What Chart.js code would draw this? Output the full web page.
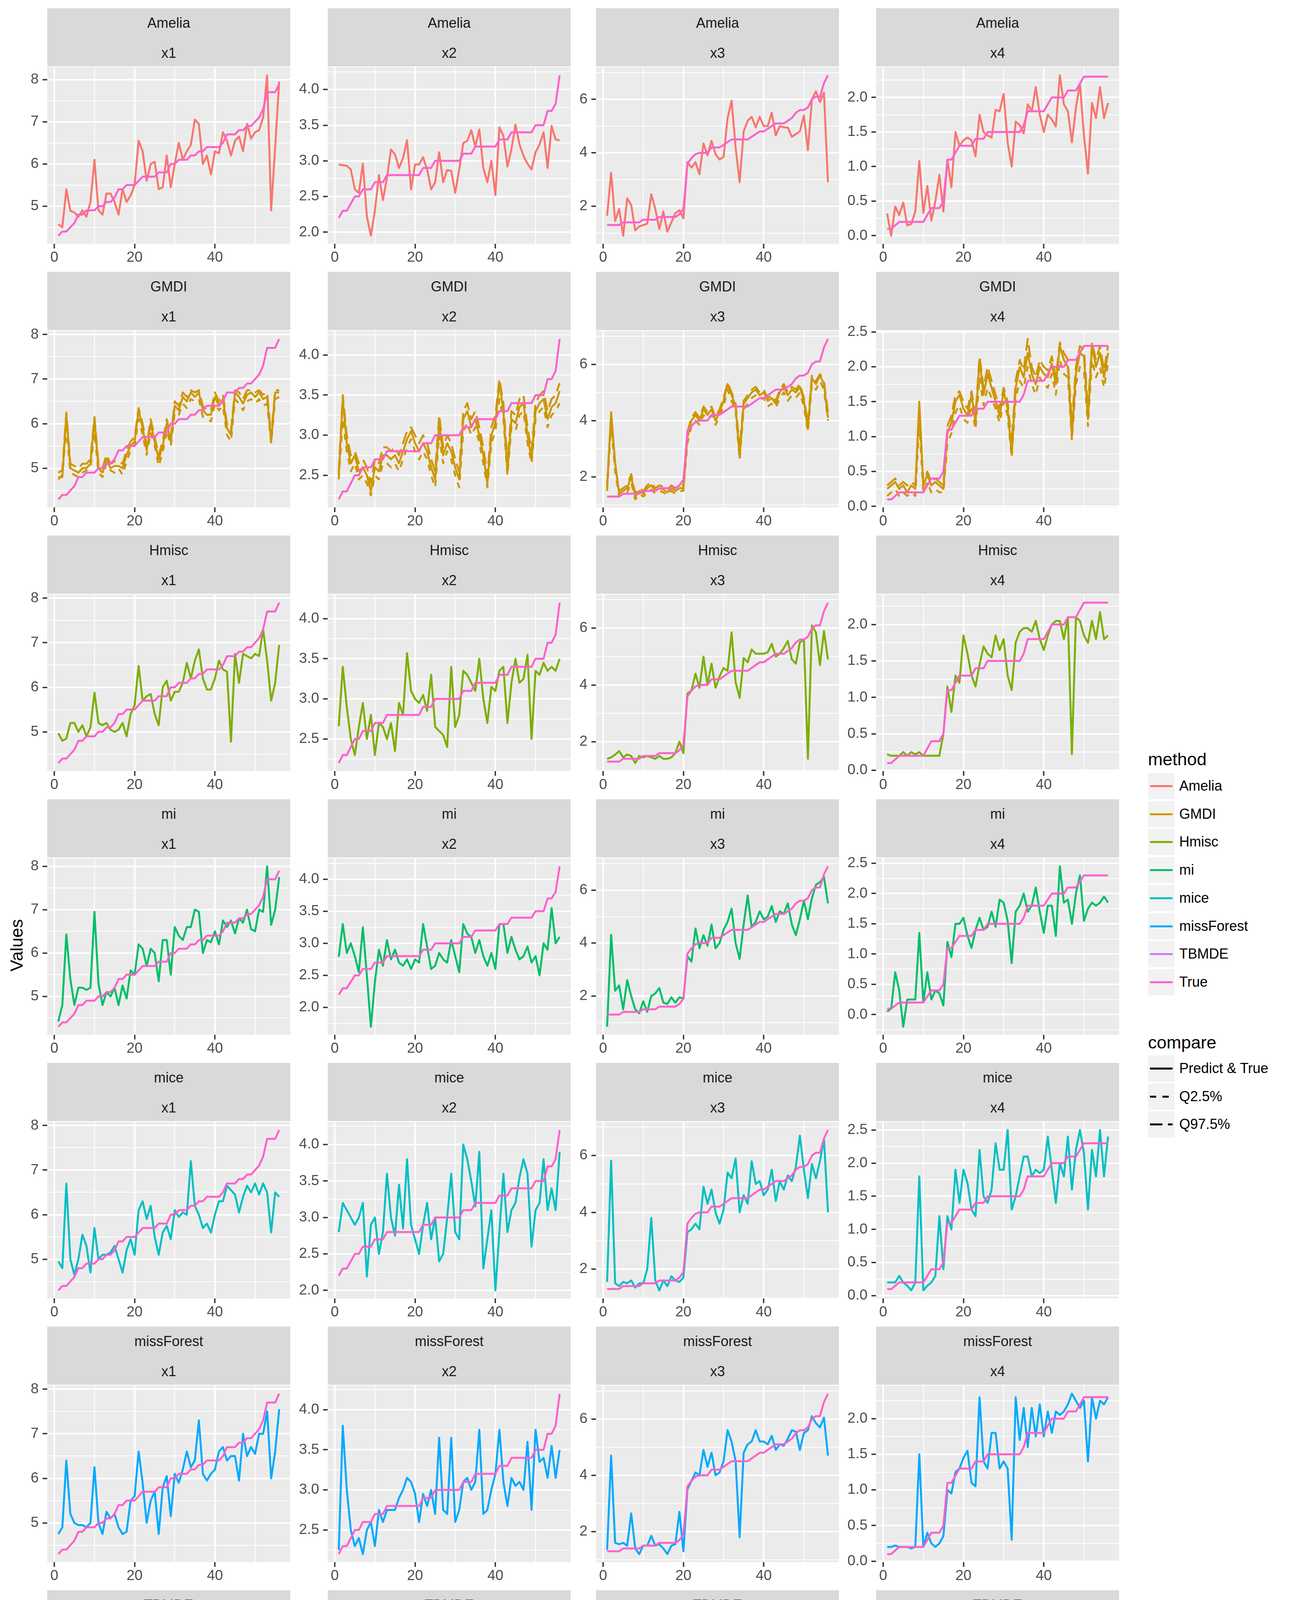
<!DOCTYPE html>
<html>
<head>
<meta charset="utf-8">
<title>Imputation vs True</title>
<script src="https://cdn.jsdelivr.net/npm/chart.js@4.4.1/dist/chart.umd.min.js"></script>
<style>
  body { margin: 0; background: #ffffff; width: 3300px; height: 4800px; position: relative; overflow: hidden;
         font-family: "Liberation Sans", Arial, sans-serif; }
  .strip { position: absolute; background: #D9D9D9; color: #1A1A1A; font-size: 36px; }
  .strip div { position: absolute; left: 0; right: 0; text-align: center; height: 40px; line-height: 40px; }
  canvas.panel { position: absolute; }
  .axis-title { position: absolute; font-size: 45px; color: #000; white-space: nowrap; }
  .leg-title { position: absolute; font-size: 45px; color: #000; height: 50px; line-height: 50px; }
  .leg-key { position: absolute; width: 68px; height: 67px; background: #F2F2F2; }
  .leg-key div { position: absolute; left: 5px; width: 58px; height: 5px; top: 31px; }
  .leg-label { position: absolute; font-size: 36px; color: #000; height: 40px; line-height: 40px; white-space: nowrap; }
</style>
</head>
<body>
<script>
// ---- data ----
var index = [1,2,3,4,5,6,7,8,9,10,11,12,13,14,15,16,17,18,19,20,21,22,23,24,25,26,27,28,
             29,30,31,32,33,34,35,36,37,38,39,40,41,42,43,44,45,46,47,48,49,50,51,52,53,54,55,56];
var varNames = ['x1', 'x2', 'x3', 'x4'];
var methodNames = ['Amelia', 'GMDI', 'Hmisc', 'mi', 'mice', 'missForest', 'TBMDE'];
var methodColors = ['#F8766D', '#CD9600', '#7CAE00', '#00BE67', '#00BFC4', '#00A9FF', '#C77CFF'];
var trueColor = '#FF61CC';
var compareNames = ['Predict & True', 'Q2.5%', 'Q97.5%'];

var trueX1 = [4.3,4.4,4.4,4.5,4.6,4.8,4.8,4.9,4.9,4.9,5.0,5.0,5.1,5.1,5.2,5.4,5.4,5.5,5.5,5.5,5.6,5.7,5.7,5.7,5.7,5.8,5.8,5.8,6.0,6.0,6.1,6.1,6.1,6.2,6.2,6.3,6.3,6.4,6.4,6.4,6.4,6.5,6.7,6.7,6.7,6.8,6.8,6.9,6.9,7.0,7.1,7.3,7.7,7.7,7.7,7.9];
var trueX2 = [2.2,2.3,2.3,2.4,2.5,2.5,2.6,2.6,2.6,2.7,2.7,2.7,2.8,2.8,2.8,2.8,2.8,2.8,2.8,2.8,2.8,2.9,2.9,2.9,3.0,3.0,3.0,3.0,3.0,3.0,3.0,3.1,3.1,3.1,3.2,3.2,3.2,3.2,3.2,3.2,3.3,3.3,3.3,3.4,3.4,3.4,3.4,3.4,3.4,3.5,3.5,3.5,3.7,3.7,3.8,4.2];
var trueX3 = [1.3,1.3,1.3,1.3,1.4,1.4,1.4,1.4,1.4,1.5,1.5,1.5,1.5,1.6,1.6,1.6,1.6,1.6,1.7,1.9,3.6,3.8,3.95,4.0,4.0,4.0,4.2,4.2,4.2,4.3,4.4,4.5,4.5,4.5,4.5,4.5,4.6,4.7,4.8,4.8,4.9,5.0,5.1,5.1,5.1,5.2,5.3,5.5,5.6,5.6,5.7,6.0,6.1,6.1,6.6,6.9];
var trueX4 = [0.1,0.1,0.15,0.2,0.2,0.2,0.2,0.2,0.2,0.2,0.3,0.4,0.4,0.4,0.5,1.1,1.1,1.2,1.3,1.3,1.3,1.3,1.4,1.4,1.4,1.5,1.5,1.5,1.5,1.5,1.5,1.5,1.5,1.5,1.6,1.8,1.8,1.8,1.8,1.8,1.9,2.0,2.0,2.0,2.0,2.1,2.1,2.1,2.2,2.3,2.3,2.3,2.3,2.3,2.3,2.3];

var ameliaX1 = [4.57,4.5,5.4,4.89,4.85,4.75,4.9,4.75,5.1,6.1,4.9,4.8,5.3,5.3,5.1,4.8,5.4,5.1,5.25,5.5,6.55,6.3,5.6,6.0,6.05,5.4,5.45,6.2,5.45,6.0,6.5,6.1,6.3,6.45,7.05,6.95,6.0,6.2,5.75,6.3,6.25,6.75,6.55,6.2,6.55,6.65,6.3,6.95,6.6,6.75,6.8,7.1,8.1,4.9,6.4,7.95];
var ameliaX2 = [2.95,2.94,2.93,2.88,2.6,2.55,2.96,2.22,1.95,2.3,2.8,2.45,2.76,3.16,3.09,2.9,3.04,3.29,2.6,2.95,2.95,3.05,2.88,2.6,2.7,3.12,2.7,2.87,2.86,2.55,2.88,3.25,3.28,3.43,3.2,3.44,2.9,2.7,3.0,2.52,3.47,3.35,2.92,3.16,3.51,3.23,3.07,2.96,2.88,3.12,3.23,3.4,2.9,3.49,3.3,3.29];
var ameliaX3 = [1.65,3.25,1.45,1.9,0.9,2.3,2.05,1.1,1.25,1.3,1.35,2.45,1.9,1.15,1.8,1.05,1.4,1.75,1.85,1.55,3.65,3.45,3.65,3.2,4.35,3.9,4.45,3.95,3.75,3.85,5.3,5.95,4.2,2.9,4.8,5.2,5.35,4.95,5.35,5.0,5.0,5.5,4.65,5.0,4.95,4.95,4.6,4.7,4.8,5.4,4.1,6.0,6.3,5.9,6.25,2.9];
var ameliaX4 = [0.32,0.0,0.42,0.3,0.48,0.15,0.17,0.35,1.08,0.33,0.72,0.22,0.5,0.88,0.35,1.1,0.7,1.5,1.3,1.38,1.42,1.38,1.15,1.75,1.5,1.45,1.42,1.82,1.8,2.05,1.35,1.0,1.65,1.6,1.48,1.9,1.8,2.15,1.75,1.5,1.75,1.68,1.58,2.32,1.9,1.8,1.35,1.85,2.2,1.45,0.9,1.92,1.7,2.15,1.7,1.92];

var gmdiX1 = [4.8,4.8,6.2,5.0,4.95,4.9,5.0,5.0,5.1,6.1,5.0,4.9,5.2,5.0,5.05,5.05,5.0,5.3,5.5,5.6,6.3,5.9,5.4,6.0,5.6,5.2,5.5,6.0,5.6,6.4,6.3,6.6,6.5,6.7,6.6,6.7,6.3,6.2,6.2,6.6,6.4,6.55,5.9,5.75,6.7,6.6,6.45,6.65,6.7,6.6,6.7,6.55,6.6,5.6,6.7,6.7];
var gmdiX2 = [2.5,3.45,2.9,2.65,2.75,2.55,2.6,2.5,2.3,2.6,2.55,2.75,2.75,2.7,2.75,2.65,2.8,2.95,3.05,2.9,2.8,2.9,2.8,2.6,2.45,3.15,2.75,2.9,2.8,2.6,2.45,3.2,3.3,3.1,3.2,3.0,2.75,2.4,3.0,3.15,3.65,3.3,2.55,3.2,3.15,3.35,3.4,3.0,2.7,3.3,3.4,3.45,3.2,3.35,3.4,3.55];
var gmdiX3 = [1.6,4.3,2.5,1.4,1.5,1.6,2.0,1.3,1.5,1.4,1.6,1.7,1.5,1.6,1.55,1.45,1.6,1.5,1.6,1.6,3.4,4.0,4.2,4.0,4.4,4.2,4.4,4.0,4.3,4.7,5.3,4.9,4.5,2.7,4.6,4.8,5.0,5.1,4.9,5.0,4.7,4.8,4.6,5.0,5.2,4.9,5.1,5.0,5.2,4.7,3.7,5.5,5.3,5.6,5.3,4.1];
var gmdiX4 = [0.25,0.3,0.35,0.25,0.3,0.2,0.3,0.25,1.5,0.3,0.45,0.3,0.35,0.3,0.25,1.05,1.2,1.5,1.6,1.4,1.3,1.6,1.2,2.1,1.6,1.9,1.7,1.5,1.3,1.65,1.4,0.75,1.7,2.0,1.85,2.2,1.9,1.75,2.0,1.9,1.85,2.05,1.75,2.3,2.1,2.0,1.0,1.9,2.2,2.15,1.25,2.3,2.0,2.2,1.85,2.2];
var gmdiLoX1 = [4.75,4.85,5.9,4.9,4.85,4.8,4.9,4.95,5.0,5.8,4.9,4.8,5.1,4.95,4.9,5.0,4.85,5.15,5.4,5.5,6.1,5.75,5.3,5.8,5.5,5.05,5.35,5.85,5.5,6.25,6.2,6.45,6.35,6.55,6.5,6.55,6.15,6.1,6.05,6.45,6.3,6.4,5.75,5.6,6.55,6.45,6.3,6.5,6.55,6.45,6.55,6.4,6.45,5.55,6.55,6.6];
var gmdiLoX2 = [2.45,3.2,2.8,2.55,2.65,2.45,2.5,2.4,2.25,2.5,2.45,2.65,2.65,2.6,2.65,2.55,2.7,2.85,2.95,2.8,2.7,2.8,2.7,2.5,2.35,3.0,2.65,2.8,2.7,2.5,2.35,3.05,3.15,3.0,3.1,2.9,2.65,2.35,2.9,3.05,3.45,3.2,2.5,3.1,3.05,3.25,3.3,2.9,2.65,3.2,3.3,3.35,3.1,3.25,3.3,3.4];
var gmdiLoX3 = [1.5,3.9,2.2,1.3,1.4,1.45,1.8,1.2,1.4,1.3,1.45,1.55,1.4,1.5,1.45,1.35,1.5,1.4,1.5,1.5,3.2,3.8,4.0,3.85,4.2,4.05,4.2,3.85,4.15,4.5,5.1,4.7,4.35,2.6,4.4,4.6,4.8,4.9,4.75,4.8,4.5,4.6,4.45,4.8,5.0,4.7,4.9,4.8,5.0,4.5,3.6,5.3,5.1,5.4,5.1,4.0];
var gmdiLoX4 = [0.15,0.2,0.25,0.15,0.2,0.15,0.2,0.15,1.2,0.2,0.35,0.2,0.25,0.2,0.2,0.9,1.05,1.35,1.45,1.25,1.2,1.45,1.1,1.85,1.45,1.7,1.55,1.4,1.2,1.5,1.3,0.7,1.55,1.8,1.7,2.0,1.75,1.6,1.85,1.75,1.7,1.9,1.6,2.1,1.9,1.85,0.95,1.75,2.0,1.95,1.15,2.1,1.85,2.0,1.7,2.05];
var gmdiHiX1 = [4.9,4.95,6.25,5.1,5.05,5.0,5.1,5.1,5.2,6.15,5.1,5.0,5.3,5.1,5.15,5.15,5.1,5.4,5.6,5.7,6.35,6.0,5.5,6.1,5.7,5.3,5.6,6.1,5.7,6.5,6.4,6.7,6.6,6.75,6.7,6.75,6.4,6.3,6.3,6.7,6.5,6.65,6.0,5.85,6.75,6.7,6.55,6.75,6.75,6.7,6.75,6.65,6.7,5.7,6.75,6.75];
var gmdiHiX2 = [2.55,3.5,3.0,2.75,2.8,2.65,2.7,2.6,2.4,2.7,2.65,2.85,2.85,2.8,2.85,2.75,2.9,3.05,3.1,3.0,2.9,3.0,2.9,2.7,2.55,3.25,2.85,3.0,2.9,2.7,2.55,3.3,3.4,3.2,3.3,3.1,2.85,2.5,3.1,3.25,3.7,3.4,2.65,3.3,3.25,3.45,3.5,3.1,2.8,3.4,3.5,3.55,3.3,3.45,3.5,3.65];
var gmdiHiX3 = [1.7,4.2,2.4,1.5,1.6,1.7,2.1,1.4,1.6,1.5,1.7,1.8,1.6,1.7,1.65,1.55,1.7,1.6,1.7,1.7,3.6,4.1,4.3,4.1,4.5,4.3,4.5,4.1,4.4,4.8,5.35,5.0,4.6,3.0,4.7,4.9,5.1,5.2,5.0,5.1,4.8,4.9,4.7,5.1,5.3,5.0,5.2,5.1,5.3,4.8,3.9,5.6,5.4,5.65,5.4,4.3];
var gmdiHiX4 = [0.3,0.35,0.4,0.3,0.35,0.3,0.35,0.3,1.4,0.35,0.5,0.35,0.4,0.35,0.3,1.15,1.3,1.6,1.65,1.5,1.4,1.65,1.3,2.15,1.7,2.0,1.8,1.6,1.4,1.7,1.5,0.9,1.8,2.1,1.95,2.4,2.0,1.85,2.1,2.0,1.95,2.15,1.85,2.35,2.2,2.1,1.2,2.0,2.3,2.25,1.4,2.35,2.1,2.3,1.95,2.3];

var hmiscX1 = [4.97,4.8,4.85,5.2,5.2,5.0,5.15,4.9,5.1,5.88,5.2,5.15,5.2,5.05,5.0,5.05,5.2,4.9,5.4,5.6,6.48,5.7,5.8,5.85,5.4,5.15,6.0,6.15,5.7,5.9,5.9,6.1,6.55,6.2,6.6,6.85,6.2,5.95,5.95,6.2,6.6,6.4,6.35,4.78,6.75,6.1,6.75,6.7,6.65,6.75,6.7,7.3,6.6,5.7,6.1,6.95];
var hmiscX2 = [2.66,3.4,2.9,2.5,2.3,2.65,2.95,2.5,2.8,2.3,2.7,2.65,2.5,2.7,2.35,2.95,2.8,3.57,3.1,3.0,2.95,3.05,2.85,3.3,2.65,2.6,2.55,2.4,3.4,2.65,2.8,3.35,3.3,3.2,3.1,3.5,3.0,2.7,3.15,3.1,3.35,3.4,2.7,3.2,3.5,3.2,3.25,3.55,2.5,3.35,3.3,3.45,3.35,3.4,3.35,3.5];
var hmiscX3 = [1.4,1.45,1.55,1.67,1.45,1.55,1.5,1.25,1.5,1.45,1.5,1.45,1.4,1.5,1.4,1.4,1.45,1.6,2.0,1.6,3.7,3.8,4.4,3.9,5.0,4.0,4.75,3.9,4.3,4.6,4.5,5.85,4.1,3.55,4.95,4.8,5.25,5.1,5.1,5.1,5.15,5.45,5.0,5.1,5.3,5.55,4.9,4.75,5.5,5.6,1.4,6.1,5.85,4.7,5.9,4.9];
var hmiscX4 = [0.22,0.2,0.2,0.2,0.25,0.2,0.25,0.22,0.25,0.2,0.2,0.2,0.2,0.2,0.5,1.15,0.8,1.3,1.2,1.85,1.6,1.3,1.15,1.45,1.7,1.6,1.55,1.85,1.65,1.8,1.3,1.1,1.75,1.9,1.95,1.95,1.9,2.05,1.8,1.65,1.85,2.0,2.05,2.05,1.8,2.1,0.22,2.1,2.05,1.85,1.75,2.05,1.8,2.17,1.8,1.85];

var miX1 = [4.42,4.8,6.43,5.4,4.8,5.2,5.2,5.15,5.2,6.95,5.3,4.8,5.1,5.0,5.2,4.8,5.25,4.95,5.6,5.5,6.2,6.1,5.7,6.1,6.0,5.35,6.3,6.3,5.5,6.6,6.4,6.3,6.6,6.6,7.0,6.95,6.0,6.3,6.25,6.5,6.2,6.75,6.6,6.75,6.45,6.8,6.7,7.0,6.55,6.5,7.0,6.95,8.0,6.65,7.0,7.75];
var miX2 = [2.79,3.3,2.85,3.0,2.8,2.55,3.25,2.5,1.7,2.4,2.9,2.65,3.05,2.75,2.9,2.7,2.65,2.75,2.6,2.75,2.7,3.3,2.95,2.6,2.65,2.85,2.75,2.7,3.05,2.8,2.55,3.3,3.15,3.1,2.85,3.05,2.8,2.65,2.85,2.6,3.3,3.3,2.85,3.1,2.9,2.75,2.8,2.95,2.7,2.8,2.5,3.0,2.9,3.55,3.0,3.1];
var miX3 = [0.84,4.31,2.2,2.4,1.5,2.6,2.0,1.5,1.35,1.8,1.4,2.0,2.1,2.3,1.75,1.7,1.95,1.75,1.95,1.9,3.5,3.3,4.55,3.8,4.3,3.9,4.7,3.8,4.0,4.5,4.8,5.3,4.0,3.4,4.7,5.8,4.6,4.8,5.2,4.9,5.0,5.4,4.8,5.2,5.1,5.5,4.7,4.3,4.9,5.6,4.9,5.7,6.2,6.3,6.5,5.5];
var miX4 = [0.05,0.1,0.7,0.4,-0.2,0.25,0.25,0.25,1.35,0.2,0.7,0.25,0.4,0.35,0.15,1.2,0.95,1.5,1.5,1.6,1.3,1.1,1.4,1.6,1.4,1.45,1.7,1.45,1.9,1.85,1.55,0.85,1.7,1.8,2.0,1.7,1.8,2.1,1.7,1.35,1.8,1.8,1.3,2.45,1.85,1.9,1.5,2.0,2.3,1.55,1.75,1.85,1.8,1.85,1.95,1.85];

var miceX1 = [4.95,4.8,6.7,5.0,4.65,5.0,5.55,5.3,4.7,5.7,5.0,5.1,5.1,5.15,5.3,5.0,4.7,5.2,5.45,5.1,6.1,6.3,5.9,6.2,5.5,5.1,5.6,5.75,5.45,6.1,5.95,6.05,6.0,7.2,6.2,6.0,5.7,5.8,5.6,6.0,6.3,6.3,6.65,6.55,6.45,6.05,6.4,6.65,6.5,6.7,6.45,6.7,6.5,5.6,6.5,6.4];
var miceX2 = [2.8,3.2,3.1,3.0,2.9,3.0,3.2,2.19,2.9,3.0,2.5,2.8,3.6,3.0,2.75,3.45,2.85,3.8,2.9,2.7,2.5,2.9,3.2,2.7,3.0,2.4,2.5,3.0,3.6,2.8,2.7,4.0,3.8,3.5,3.15,3.9,2.3,2.7,3.1,2.0,2.8,3.6,2.8,3.1,3.2,3.55,3.8,3.6,2.6,3.1,3.2,3.8,3.1,3.4,3.1,3.9];
var miceX3 = [1.55,5.82,1.5,1.4,1.55,1.5,1.6,1.35,1.5,1.5,2.0,3.8,1.6,1.25,1.6,1.4,1.75,1.6,1.55,1.7,3.3,3.4,3.6,3.4,4.9,4.3,4.8,4.0,3.6,4.1,5.4,5.2,5.9,4.0,4.6,4.3,5.8,5.0,5.1,4.6,4.8,5.5,4.4,5.1,4.8,5.3,5.1,5.6,6.7,5.5,4.5,5.7,5.2,5.8,6.6,4.0];
var miceX4 = [0.2,0.2,0.2,0.3,0.2,0.15,0.08,0.2,1.8,0.08,0.15,0.2,0.3,1.2,0.4,1.2,1.0,1.9,1.4,1.9,1.7,1.3,1.2,2.2,1.5,1.4,1.6,2.3,1.9,1.9,2.5,1.3,1.5,1.8,2.1,2.1,1.8,1.9,1.85,1.9,2.4,1.9,1.4,2.0,1.8,2.4,1.6,2.2,2.5,2.15,1.3,2.2,1.8,2.5,1.8,2.4];

var missForestX1 = [4.75,4.9,6.4,5.2,5.0,4.95,4.95,4.9,5.0,6.25,5.0,4.75,5.25,5.1,5.2,4.9,4.75,4.8,5.5,5.6,6.6,5.9,5.0,5.5,5.7,4.75,5.8,6.05,5.15,6.1,5.9,6.2,6.6,6.25,6.4,7.3,6.1,5.95,6.1,6.2,6.6,6.7,6.4,6.5,6.5,5.95,7.0,6.5,6.7,6.55,7.0,7.0,7.5,6.0,6.6,7.55];
var missForestX2 = [2.25,3.8,3.0,2.5,2.3,2.4,2.2,2.5,2.6,2.3,2.75,2.6,2.75,2.75,2.75,2.9,3.0,3.15,3.1,2.95,2.6,2.95,2.8,3.0,2.7,3.65,2.75,2.7,3.65,2.6,2.75,3.1,3.15,3.0,3.1,3.75,2.7,2.75,3.0,3.2,3.75,3.1,2.8,3.15,3.05,3.1,3.0,3.6,2.75,3.75,3.35,3.4,3.15,3.55,3.15,3.5];
var missForestX3 = [1.35,4.7,1.6,1.55,1.6,1.5,2.65,1.4,1.2,1.5,1.5,1.85,1.5,1.55,1.4,1.2,1.5,1.55,2.7,1.3,3.5,3.8,4.1,4.0,4.9,4.3,4.8,4.0,4.1,4.5,5.6,5.2,4.5,1.8,4.8,5.1,5.2,5.6,5.2,5.2,5.1,5.4,4.9,5.1,5.05,5.3,5.6,5.55,4.9,5.5,5.6,6.1,5.85,5.7,6.05,4.7];
var missForestX4 = [0.2,0.2,0.22,0.2,0.2,0.2,0.18,0.2,1.5,0.2,0.4,0.25,0.2,0.25,0.35,1.0,0.95,1.25,1.3,1.45,1.55,1.1,1.05,2.3,1.4,1.3,1.8,1.8,1.3,1.4,1.3,0.3,2.3,1.7,2.15,1.6,2.15,1.75,2.2,1.75,2.1,1.8,2.1,2.05,2.1,2.2,2.35,2.25,2.15,2.25,1.4,2.3,2.0,2.25,2.2,2.3];

var tbmdeX1 = [4.9,4.9,5.9,5.0,4.85,4.9,4.95,4.85,5.0,5.8,4.95,4.85,5.2,5.0,4.9,5.0,4.95,5.2,5.6,5.5,6.3,5.9,5.6,6.0,5.6,5.2,5.8,6.4,6.0,6.1,6.2,6.4,6.3,6.5,6.6,6.5,6.2,6.1,6.3,6.3,6.5,6.6,6.4,5.6,6.5,6.6,6.5,6.7,6.6,6.4,6.6,6.7,6.6,5.7,6.6,6.7];
var tbmdeX2 = [2.8,3.5,2.95,2.9,2.75,2.7,2.65,2.6,2.8,2.7,2.75,2.8,2.7,2.9,2.85,3.0,2.95,3.05,3.0,2.95,3.0,2.85,2.8,3.0,2.8,3.3,2.75,2.8,3.0,2.8,2.9,3.25,3.35,3.1,3.3,3.2,2.9,2.8,3.1,3.2,3.5,3.3,3.0,3.35,3.4,3.3,3.45,3.3,2.9,3.3,3.35,3.45,3.4,3.6,3.5,3.7];
var tbmdeX3 = [1.7,3.6,2.2,1.6,1.5,1.8,1.7,1.4,1.5,1.55,1.6,1.8,1.6,1.7,1.55,1.5,1.65,1.6,1.7,1.7,3.3,3.9,4.0,3.9,4.0,3.95,4.0,3.9,4.1,4.1,4.8,4.3,4.1,3.2,4.2,4.3,4.5,4.6,4.3,4.3,4.2,4.4,4.1,4.2,4.4,4.9,4.5,4.9,5.1,4.8,2.8,5.0,5.3,5.2,5.4,4.0];
var tbmdeX4 = [0.3,0.25,0.3,0.25,0.3,0.3,0.25,0.3,1.1,0.4,0.5,0.3,0.45,0.4,0.35,1.0,1.2,1.3,1.4,1.7,1.3,1.2,1.3,1.9,1.4,1.5,1.9,1.6,1.3,1.4,1.6,0.8,1.9,1.5,2.1,1.8,2.0,1.6,1.9,1.7,1.9,2.0,1.8,2.2,1.9,2.1,0.9,2.0,2.2,1.8,1.2,2.2,1.9,2.3,1.8,2.0];
var tbmdeLoX1 = [4.75,4.8,5.5,4.8,4.7,4.75,4.8,4.7,4.85,5.4,4.8,4.7,5.0,4.85,4.75,4.85,4.7,5.0,5.4,5.3,6.0,5.7,5.4,5.75,5.4,4.9,5.6,6.1,5.8,5.9,6.0,6.2,6.1,6.3,6.4,6.3,6.0,5.9,6.1,6.1,6.3,6.4,6.2,5.4,6.3,6.4,6.3,6.5,6.4,6.2,6.4,6.5,6.4,5.5,6.4,6.5];
var tbmdeLoX2 = [2.65,3.3,2.8,2.75,2.6,2.6,2.55,2.5,2.65,2.55,2.6,2.65,2.6,2.75,2.7,2.85,2.8,2.9,2.85,2.8,2.85,2.7,2.65,2.85,2.65,3.1,2.6,2.6,2.85,2.65,2.75,3.1,3.2,2.95,3.15,3.05,2.75,2.7,2.95,3.05,3.3,3.15,2.85,3.2,3.25,3.15,3.3,3.15,2.8,3.15,3.2,3.3,3.25,3.4,3.35,3.5];
var tbmdeLoX3 = [1.4,2.8,1.9,1.4,1.3,1.55,1.5,1.25,1.35,1.4,1.4,1.6,1.45,1.5,1.4,1.3,1.45,1.45,1.5,1.5,3.0,3.7,3.8,3.7,3.85,3.8,3.85,3.75,3.9,3.9,4.5,4.1,3.9,2.5,4.0,4.1,4.3,4.4,4.1,4.1,4.0,4.2,3.9,4.0,4.2,4.6,4.3,4.6,4.8,4.5,2.0,4.7,5.0,4.9,5.1,3.7];
var tbmdeLoX4 = [0.15,0.15,0.2,0.15,0.2,0.2,0.15,0.2,0.8,0.25,0.35,0.2,0.3,0.25,0.25,0.8,1.0,1.1,1.2,1.5,1.1,1.0,1.15,1.6,1.2,1.3,1.6,1.4,1.1,1.2,1.4,0.6,1.6,1.3,1.8,1.55,1.75,1.4,1.6,1.5,1.6,1.75,1.55,1.9,1.65,1.8,0.55,1.7,1.9,1.5,1.0,1.9,1.6,2.0,1.5,1.7];
var tbmdeHiX1 = [5.0,5.05,6.1,5.15,5.0,5.05,5.1,5.0,5.15,5.95,5.1,5.0,5.35,5.15,5.05,5.15,5.1,5.35,5.75,5.7,6.5,6.1,5.8,6.2,5.8,5.4,6.0,6.6,6.2,6.3,6.4,6.6,6.5,6.7,6.7,6.7,6.4,6.3,6.5,6.5,6.7,6.7,6.6,5.9,6.7,6.7,6.7,6.75,6.7,6.6,6.7,6.75,6.7,5.9,6.7,6.75];
var tbmdeHiX2 = [2.95,3.6,3.1,3.05,2.9,2.85,2.8,2.75,2.95,2.85,2.9,2.95,2.85,3.05,3.0,3.1,3.1,3.15,3.1,3.05,3.1,3.0,2.95,3.1,2.95,3.45,2.9,2.95,3.1,2.95,3.05,3.4,3.5,3.25,3.45,3.35,3.05,2.95,3.25,3.35,3.65,3.45,3.15,3.5,3.55,3.45,3.6,3.45,3.05,3.45,3.5,3.6,3.55,3.8,3.65,3.85];
var tbmdeHiX3 = [2.0,3.9,2.5,1.8,1.7,2.0,1.9,1.6,1.7,1.7,1.8,2.1,1.8,1.9,1.7,1.65,1.8,1.75,1.85,1.9,3.6,4.0,4.1,4.05,4.2,4.1,4.15,4.05,4.25,4.3,5.2,4.5,4.3,3.6,4.4,4.5,4.7,4.8,4.5,4.5,4.4,4.6,4.3,4.4,4.6,5.1,4.7,5.2,5.3,5.0,3.4,5.3,5.5,5.4,5.6,4.3];
var tbmdeHiX4 = [0.4,0.35,0.4,0.35,0.4,0.4,0.35,0.4,1.35,0.55,0.65,0.4,0.6,0.5,0.45,1.2,1.4,1.5,1.6,1.85,1.5,1.4,1.5,2.1,1.6,1.7,2.15,1.8,1.5,1.6,1.8,1.0,2.1,1.7,2.3,2.0,2.25,1.8,2.1,1.9,2.15,2.25,2.0,2.4,2.1,2.35,1.2,2.25,2.4,2.05,1.5,2.4,2.15,2.4,2.05,2.25];

// y-axis breaks per variable (major step, decimals)
var majorStep = [1, 0.5, 2, 0.5];
var labelDecimals = [0, 1, 0, 1];

// lookup tables built from the arrays above
var trueByVar = [trueX1, trueX2, trueX3, trueX4];
var predictByMethod = {
  Amelia: [ameliaX1, ameliaX2, ameliaX3, ameliaX4],
  GMDI: [gmdiX1, gmdiX2, gmdiX3, gmdiX4],
  Hmisc: [hmiscX1, hmiscX2, hmiscX3, hmiscX4],
  mi: [miX1, miX2, miX3, miX4],
  mice: [miceX1, miceX2, miceX3, miceX4],
  missForest: [missForestX1, missForestX2, missForestX3, missForestX4],
  TBMDE: [tbmdeX1, tbmdeX2, tbmdeX3, tbmdeX4]
};
var lowerByMethod = {
  GMDI: [gmdiLoX1, gmdiLoX2, gmdiLoX3, gmdiLoX4],
  TBMDE: [tbmdeLoX1, tbmdeLoX2, tbmdeLoX3, tbmdeLoX4]
};
var upperByMethod = {
  GMDI: [gmdiHiX1, gmdiHiX2, gmdiHiX3, gmdiHiX4],
  TBMDE: [tbmdeHiX1, tbmdeHiX2, tbmdeHiX3, tbmdeHiX4]
};

// ---- layout ----
var FONT = '"Liberation Sans", Arial, sans-serif';
var colLeft = [121, 839, 1526, 2243];
var panelW = 622, panelH = 454, stripH = 149, rowStep = 675, firstStrip = 21;
var axisW = 100, axisH = 80, padTop = 30, padRight = 12;
var dashQ025 = [16, 16], dashQ975 = [32, 14];

Chart.defaults.font.family = FONT;

var panelBackground = {
  id: 'panelBackground',
  beforeDraw: function(chart) {
    var a = chart.chartArea, ctx = chart.ctx;
    ctx.save();
    ctx.fillStyle = '#EBEBEB';
    ctx.fillRect(a.left, a.top, a.right - a.left, a.bottom - a.top);
    ctx.restore();
  }
};

function isMajor(v, step) {
  var q = v / step;
  return Math.abs(q - Math.round(q)) < 1e-6;
}

function stepTicks(lo, hi, step) {
  var out = [];
  for (var k = Math.ceil(lo / step - 1e-9); k * step <= hi + 1e-9; k++) {
    out.push({ value: Math.round(k * step * 1e6) / 1e6 });
  }
  return out;
}

function toPoints(values) {
  return index.map(function(x, i) { return { x: x, y: values[i] }; });
}

function lineSet(label, values, color, dash) {
  return {
    label: label,
    data: toPoints(values),
    borderColor: color,
    backgroundColor: color,
    borderWidth: 5,
    borderDash: dash,
    borderJoinStyle: 'round',
    pointRadius: 0,
    tension: 0,
    fill: false
  };
}

function makeAxis(lo, hi, major, decimals, horizontal) {
  return {
    type: 'linear',
    min: lo,
    max: hi,
    bounds: 'data',
    afterBuildTicks: function(scale) { scale.ticks = stepTicks(scale.min, scale.max, major / 2); },
    afterFit: function(scale) {
      if (horizontal) { scale.height = axisH; } else { scale.width = axisW; }
    },
    border: { display: false },
    grid: {
      color: '#FFFFFF',
      lineWidth: function(ctx) { return isMajor(ctx.tick.value, major) ? 4 : 2; },
      tickColor: function(ctx) { return isMajor(ctx.tick.value, major) ? '#333333' : 'rgba(0,0,0,0)'; },
      tickLength: 12,
      tickWidth: 3.5
    },
    ticks: {
      autoSkip: false,
      maxRotation: 0,
      padding: horizontal ? 2 : 10,
      color: '#4D4D4D',
      font: { size: 37, family: FONT },
      callback: function(value) {
        return isMajor(value, major) ? Number(value).toFixed(decimals) : '';
      }
    }
  };
}

function addDiv(cls, left, top, text) {
  var d = document.createElement('div');
  d.className = cls;
  d.style.left = left + 'px';
  d.style.top = top + 'px';
  if (text !== undefined) d.textContent = text;
  document.body.appendChild(d);
  return d;
}

function drawPanel(r, c) {
  var method = methodNames[r];
  var stripTop = firstStrip + r * rowStep;

  var strip = addDiv('strip', colLeft[c], stripTop);
  strip.style.width = panelW + 'px';
  strip.style.height = stripH + 'px';
  var l1 = document.createElement('div'); l1.style.top = '18px'; l1.textContent = method; strip.appendChild(l1);
  var l2 = document.createElement('div'); l2.style.top = '95px'; l2.textContent = varNames[c]; strip.appendChild(l2);

  var datasets = [
    lineSet('True', trueByVar[c], trueColor, []),
    lineSet(method, predictByMethod[method][c], methodColors[r], [])
  ];
  if (lowerByMethod[method]) {
    datasets.push(lineSet(method + ' Q2.5%', lowerByMethod[method][c], methodColors[r], dashQ025));
    datasets.push(lineSet(method + ' Q97.5%', upperByMethod[method][c], methodColors[r], dashQ975));
  }

  // free y scale: data range + 5% on each side (ggplot default)
  var all = [];
  datasets.forEach(function(ds) { ds.data.forEach(function(p) { all.push(p.y); }); });
  var ymin = Math.min.apply(null, all), ymax = Math.max.apply(null, all);
  var ypad = (ymax - ymin) * 0.05;
  var xpad = (index[index.length - 1] - index[0]) * 0.05;

  var canvas = document.createElement('canvas');
  canvas.className = 'panel';
  canvas.width = axisW + panelW + padRight;
  canvas.height = padTop + panelH + axisH;
  canvas.style.left = (colLeft[c] - axisW) + 'px';
  canvas.style.top = (stripTop + stripH - padTop) + 'px';
  document.body.appendChild(canvas);

  new Chart(canvas, {
    type: 'line',
    data: { datasets: datasets },
    options: {
      responsive: false,
      animation: false,
      devicePixelRatio: 1,
      events: [],
      layout: { padding: { top: padTop, right: padRight, left: 0, bottom: 0 } },
      plugins: { legend: { display: false }, tooltip: { enabled: false } },
      scales: {
        x: makeAxis(index[0] - xpad, index[index.length - 1] + xpad, 20, 0, true),
        y: makeAxis(ymin - ypad, ymax + ypad, majorStep[c], labelDecimals[c], false)
      }
    },
    plugins: [panelBackground]
  });
}

for (var r = 0; r < methodNames.length; r++) {
  for (var c = 0; c < varNames.length; c++) {
    drawPanel(r, c);
  }
}

// axis titles
var yTitle = addDiv('axis-title', 43, 2420, 'Values');
yTitle.style.transform = 'translate(-50%, -50%) rotate(-90deg)';
var xTitle = addDiv('axis-title', 1494, 4763, 'Index');
xTitle.style.transform = 'translate(-50%, -50%)';

// legends
var legLeft = 2939, legStep = 71.7;
addDiv('leg-title', legLeft, 1919, 'method');
var legendNames = methodNames.concat(['True']);
var legendColors = methodColors.concat([trueColor]);
legendNames.forEach(function(name, k) {
  var top = 1979 + k * legStep;
  var key = addDiv('leg-key', legLeft, top);
  var ln = document.createElement('div');
  ln.style.background = legendColors[k];
  key.appendChild(ln);
  addDiv('leg-label', 3019, top + 13, name);
});

addDiv('leg-title', legLeft, 2644, 'compare');
var compareFill = [
  '#000',
  'repeating-linear-gradient(to right, #000 0 16px, transparent 16px 32px)',
  'repeating-linear-gradient(to right, #000 0 32px, transparent 32px 46px)'
];
compareNames.forEach(function(name, k) {
  var top = 2702 + k * legStep;
  var key = addDiv('leg-key', legLeft, top);
  var ln = document.createElement('div');
  ln.style.background = compareFill[k];
  key.appendChild(ln);
  addDiv('leg-label', 3019, top + 13, name);
});
</script>
</body>
</html>
